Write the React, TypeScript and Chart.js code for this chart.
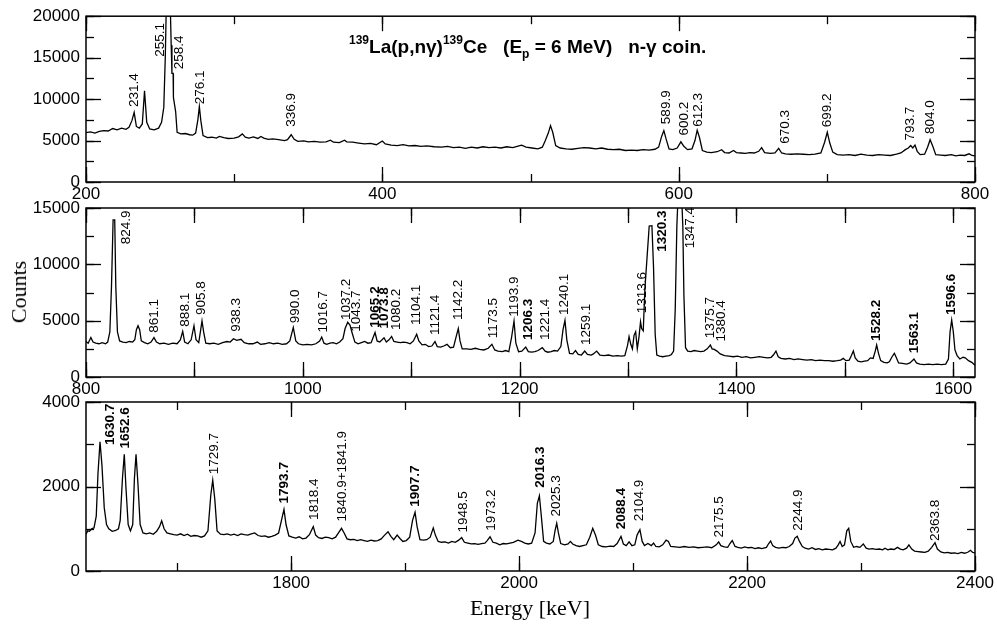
import React, { useEffect, useRef } from 'react';
import { Chart, registerables } from 'chart.js';

Chart.register(...registerables);

const SANS = '"Liberation Sans", Arial, Helvetica, sans-serif';
const SERIF = '"Liberation Serif", "Times New Roman", serif';

// ---------- Panel 1: 200–800 keV ----------
const spectrum1: [number, number][] = [
  [200, 5950], [203, 6050], [206, 5900], [209, 6100], [212, 6200], [215, 6150], [218, 6450], [221, 6300],
  [224, 6500], [227, 6350], [229, 6600], [231, 7400], [232.5, 8400], [234, 6700], [236, 6500], [238, 7000],
  [239.5, 11000], [241, 7200], [243, 6400], [246, 6300], [249, 6500], [251, 7200], [252.5, 9000], [253.5, 15000],
  [254.5, 24000], [256.5, 24000], [257.5, 16500], [258, 13100], [258.8, 13100], [259, 10200], [260.5, 8500],
  [261.5, 6000], [264, 5800], [267, 5850], [270, 5700], [272, 5650], [274, 5900], [275.5, 7500], [276.5, 9100],
  [277.5, 7400], [279, 5600], [282, 5350], [285, 5400], [288, 5300], [290, 5500], [293, 5350], [296, 5250],
  [300, 5300], [303, 5450], [305.5, 5800], [307.5, 5400], [310, 5300], [313, 5450], [316, 5250], [318, 5500],
  [320, 5300], [323, 5150], [326, 5200], [330, 5100], [334, 5000], [336, 5100], [338.5, 5700], [340.5, 5150],
  [343, 4900], [347, 4950], [350, 4850], [354, 4900], [358, 4800], [362, 4850], [365, 5050], [367, 4800],
  [371, 4750], [374.5, 5050], [376, 4850], [380, 4800], [384, 4700], [388, 4600], [392, 4650], [396, 4500],
  [400, 4950], [402, 4600], [406, 4450], [410, 4400], [414, 4500], [418, 4350], [422, 4400], [426, 4300],
  [430, 4350], [435, 4250], [440, 4200], [444, 4300], [448, 4150], [452, 4200], [456, 4050], [460, 4200],
  [464, 4100], [468, 4250], [472, 4150], [476, 4200], [480, 4100], [484, 4250], [488, 4150], [491, 4300],
  [494, 4450], [497, 4200], [501, 4100], [505, 4000], [508, 4200], [510, 5000], [512, 5900], [513.5, 6800],
  [515, 6000], [517, 4400], [520, 4100], [524, 4000], [528, 3950], [532, 4050], [536, 4150], [540, 4100],
  [544, 4000], [548, 4100], [552, 3950], [556, 3900], [560, 3950], [564, 3800], [568, 3850], [572, 3800],
  [576, 3900], [580, 3850], [584, 3950], [586.5, 4200], [588.5, 5500], [590, 6200], [591.5, 5200], [593.5, 4000],
  [596, 3900], [599, 4100], [601.5, 4850], [603.5, 4300], [606, 3900], [609, 4000], [611, 5000], [612.5, 6250],
  [614, 5400], [616, 3800], [619, 3600], [622, 3550], [626, 3650], [629, 3900], [631, 3550], [634, 3500],
  [637, 3800], [639, 3550], [642, 3500], [645, 3450], [648, 3550], [651, 3500], [654, 3700], [656, 4150],
  [658, 3550], [662, 3450], [665, 3500], [667.5, 4050], [669.5, 3500], [672, 3400], [676, 3350], [680, 3400],
  [684, 3350], [688, 3300], [692, 3350], [696, 3500], [698.5, 4800], [700.3, 6000], [702, 4700], [704, 3600],
  [707, 3300], [711, 3250], [715, 3300], [719, 3200], [723, 3350], [727, 3250], [731, 3200], [735, 3300],
  [739, 3250], [743, 3200], [747, 3350], [750, 3500], [753, 3900], [755, 4100], [756.6, 4400], [758, 4100],
  [759.5, 4450], [761, 3700], [763, 3300], [766, 3350], [768, 4200], [769.7, 5100], [771.5, 4300], [773.5, 3300],
  [777, 3250], [780, 3200], [784, 3300], [787, 3150], [790, 3250], [793, 3200], [796, 3400], [798, 3200],
  [800, 3150],
];

// [text, energy position on axis, counts at text start, bold]
const labels1: [string, number, number, boolean][] = [
  ['231.4', 232.8, 9050, false], ['255.1', 249.9, 15120, false], ['258.4', 263, 13610, false],
  ['276.1', 277, 9370, false], ['336.9', 338.8, 6670, false], ['589.9', 591.9, 6980, false],
  ['600.2', 603.6, 5600, false], ['612.3', 613.3, 6670, false], ['670.3', 671.8, 4600, false],
  ['699.2', 700.5, 6590, false], ['793.7', 756.6, 5000, false], ['804.0', 769.6, 5800, false],
];

// ---------- Panel 2: 800–1620 keV ----------
const spectrum2: [number, number][] = [
  [800, 3150], [802, 3000], [804.5, 3500], [806.5, 3100], [809, 3000], [812, 2950], [815, 3050], [818, 2950],
  [820, 3100], [822, 4000], [823.5, 8000], [825, 13950], [826.5, 13950], [827.5, 8000], [829, 4000], [831, 3200],
  [834, 3100], [837, 3050], [840, 3150], [843, 3100], [845, 3300], [846.5, 4200], [848, 4550], [849.5, 4200],
  [851, 3200], [854, 3050], [857, 2950], [860, 3100], [862.7, 3500], [865, 3100], [868, 2950], [872, 3000],
  [876, 2900], [880, 3000], [884, 2950], [887, 3300], [889.2, 4050], [891, 3100], [894, 2950], [897, 3300],
  [899.6, 4550], [901.5, 3300], [904, 3050], [905.5, 4000], [907, 4970], [908.5, 4000], [910.5, 3000], [914, 2950],
  [918, 3000], [922, 2900], [926, 3050], [930, 3150], [933, 3100], [936, 3400], [939, 3250], [943, 3350],
  [946, 3050], [950, 2950], [954, 2950], [958, 3100], [961, 2900], [965, 2950], [969, 3050], [973, 2950],
  [977, 3000], [981, 2900], [985, 2950], [988, 3200], [991.2, 4400], [993.5, 3200], [996, 2950], [1000, 2850],
  [1004, 2900], [1008, 2850], [1012, 2950], [1015.5, 3200], [1017.4, 3550], [1019.5, 3000], [1022, 2900], [1025, 3000],
  [1028, 3050], [1031, 2950], [1034, 3100], [1037, 3400], [1039, 4300], [1041.4, 4850], [1043.5, 4600], [1045.5, 3900],
  [1048, 3100], [1051, 2950], [1054, 3050], [1057, 3150], [1060, 3000], [1063, 3050], [1066.6, 3950], [1068.5, 3200],
  [1071, 3100], [1074.9, 3480], [1077, 3100], [1079.5, 3300], [1081.9, 3600], [1084, 3150], [1087, 3100], [1090, 3050],
  [1093, 3100], [1096, 3050], [1099, 2950], [1102, 3200], [1105, 3800], [1107, 3200], [1110, 2850], [1113, 2900],
  [1116, 2700], [1119, 2750], [1121.9, 3150], [1124, 2700], [1127, 2650], [1130, 2750], [1133, 2900], [1136, 2600],
  [1139, 2650], [1141.5, 3600], [1143.4, 4300], [1145, 3200], [1147, 2500], [1151, 2500], [1155, 2450], [1159, 2550],
  [1163, 2450], [1167, 2400], [1171, 2550], [1174.4, 2900], [1177, 2400], [1180, 2300], [1184, 2250], [1187, 2350],
  [1190, 2250], [1192.5, 3500], [1194.8, 4970], [1196.5, 3000], [1199, 2250], [1202, 2300], [1205.6, 2650], [1208, 2250],
  [1211, 2200], [1214, 2250], [1217, 2350], [1220.9, 2600], [1223.5, 2300], [1226, 2200], [1229, 2250], [1232, 2350],
  [1235, 2300], [1238, 2700], [1240, 4200], [1241.8, 5030], [1243.5, 3300], [1246, 2100], [1249, 2050], [1251.5, 2350],
  [1254, 2000], [1257, 1950], [1260, 2300], [1262.5, 2000], [1266, 1950], [1268, 2050], [1271, 2300], [1274, 1950],
  [1278, 1900], [1282, 1950], [1286, 1850], [1290, 1900], [1294, 1850], [1297, 1900], [1299.5, 2800], [1300.9, 3580],
  [1302.5, 2900], [1304, 2500], [1305.5, 3700], [1307, 4020], [1308.5, 2500], [1310, 3500], [1311.5, 4900], [1312.5, 4300],
  [1314, 4100], [1315.5, 7800], [1317.5, 10600], [1319.5, 13400], [1322, 13430], [1323.5, 9670], [1325, 3800], [1326.5, 1950],
  [1329, 1850], [1332, 1800], [1335, 1850], [1338, 1900], [1340, 2000], [1342, 2300], [1343.5, 6000], [1345, 13400],
  [1346.5, 17000], [1349, 17000], [1350.5, 13380], [1351.5, 7260], [1353, 2600], [1355, 2300], [1358, 2250], [1361, 2350],
  [1364, 2300], [1367, 2250], [1370, 2300], [1373, 2500], [1375.9, 2840], [1377.5, 2500], [1379.5, 2450], [1382, 2300],
  [1385, 2050], [1389, 1900], [1393, 1850], [1397, 1800], [1401, 1850], [1405, 1750], [1409, 1800], [1413, 1700],
  [1417, 1750], [1421, 1800], [1425, 1750], [1429, 1700], [1432, 1750], [1434, 1950], [1436.4, 2300], [1438.5, 1800],
  [1441, 1650], [1445, 1600], [1449, 1650], [1453, 1550], [1457, 1600], [1461, 1550], [1465, 1500], [1469, 1550],
  [1473, 1450], [1477, 1500], [1481, 1450], [1485, 1450], [1489, 1400], [1493, 1450], [1496, 1500], [1498.5, 1650],
  [1501, 1450], [1504, 1500], [1506, 1900], [1507.8, 2310], [1509.5, 1700], [1512, 1400], [1515, 1350], [1518, 1400],
  [1521, 1450], [1523.5, 1700], [1526, 1650], [1528, 2300], [1529.3, 2840], [1531, 2100], [1533, 1450], [1536, 1300],
  [1539, 1250], [1541, 1350], [1543.5, 1800], [1545.6, 2100], [1547.5, 1700], [1549.5, 1250], [1553, 1200], [1557, 1150],
  [1560, 1250], [1563.7, 1600], [1566, 1250], [1569, 1150], [1573, 1100], [1577, 1150], [1581, 1100], [1585, 1150],
  [1589, 1100], [1593, 1150], [1595.5, 1600], [1597, 4000], [1598.5, 5060], [1600, 4000], [1601.5, 2400], [1603.5, 1900],
  [1606, 1600], [1609, 1750], [1611, 1700], [1614, 1450], [1617, 1300], [1620, 1050],
];

const labels2: [string, number, number, boolean][] = [
  ['824.9', 836.9, 11780, false], ['861.1', 862.7, 3930, false], ['888.1', 891.3, 4470, false],
  ['905.8', 906.7, 5500, false], ['938.3', 939, 4020, false], ['990.0', 992.8, 4760, false],
  ['1016.7', 1018.9, 3960, false], ['1037.2', 1040.5, 5060, false], ['1043.7', 1049.7, 4020, false],
  ['1065.2', 1066.6, 4380, true], ['1073.8', 1074.9, 4300, true], ['1080.2', 1086.6, 4170, false],
  ['1104.1', 1105, 4620, false], ['1121.4', 1121.9, 3730, false], ['1142.2', 1143.4, 5060, false],
  ['1173.5', 1175.7, 3430, false], ['1193.9', 1194.8, 5350, false], ['1206.3', 1208, 3280, true],
  ['1221.4', 1223.4, 3280, false], ['1240.1', 1240.9, 5500, false], ['1259.1', 1261.2, 2840, false],
  ['1313.6', 1313.5, 5650, false], ['1320.3', 1332, 11120, true], ['1347.4', 1357.1, 11420, false],
  ['1375.7', 1375.5, 3430, false], ['1380.4', 1385.7, 3140, false], ['1528.2', 1529.3, 3190, true],
  ['1563.1', 1563.7, 2100, true], ['1596.6', 1597.8, 5500, true],
];

// ---------- Panel 3: 1620–2400 keV ----------
const spectrum3: [number, number][] = [
  [1620, 870], [1621.5, 950], [1623, 940], [1625, 1000], [1627, 1020], [1629, 1300], [1630.5, 2300], [1632.3, 3060],
  [1634, 2500], [1636, 1500], [1638, 1100], [1640, 1000], [1643, 940], [1646, 960], [1648.5, 1000], [1650, 1200],
  [1652, 2200], [1653.6, 2760], [1655, 2000], [1657, 1100], [1659, 950], [1661, 1100], [1662.5, 2200], [1663.9, 2760],
  [1665.5, 2100], [1667.5, 1100], [1670, 900], [1673, 880], [1676, 900], [1679, 870], [1682, 940], [1684.5, 1050],
  [1686.4, 1190], [1688.5, 1000], [1691, 900], [1694, 880], [1697, 860], [1700, 850], [1703, 880], [1706, 840],
  [1709, 870], [1712, 820], [1715, 840], [1718, 830], [1721, 800], [1724, 830], [1727, 950], [1729.5, 1800],
  [1731.2, 2150], [1733, 1700], [1735, 950], [1738, 870], [1741, 860], [1744, 880], [1747, 850], [1750, 870],
  [1753, 840], [1756, 880], [1759, 860], [1762, 850], [1765, 880], [1768, 900], [1771, 840], [1774, 820],
  [1777, 830], [1780, 800], [1783, 820], [1786, 850], [1789, 900], [1791.5, 1200], [1793.7, 1460], [1795.5, 1100],
  [1798, 830], [1801, 800], [1804, 780], [1807, 810], [1810, 760], [1813, 780], [1816, 860], [1819.4, 1050],
  [1821.5, 850], [1824, 790], [1827, 770], [1830, 800], [1833, 790], [1836, 760], [1839, 800], [1841.5, 900],
  [1844.2, 1010], [1846.5, 900], [1849, 760], [1852, 740], [1855, 750], [1858, 720], [1861, 740], [1864, 720],
  [1867, 700], [1870, 730], [1873, 710], [1876, 720], [1879, 760], [1882, 850], [1885, 930], [1887.5, 820],
  [1890, 740], [1893, 850], [1895.5, 770], [1898, 700], [1901, 720], [1904, 800], [1906.5, 1200], [1908.7, 1390],
  [1910.5, 1050], [1913, 740], [1916, 730], [1919, 740], [1922, 800], [1924.7, 1020], [1926.5, 850], [1929, 700],
  [1932, 680], [1935, 690], [1938, 660], [1941, 700], [1944, 680], [1947, 730], [1949.6, 790], [1952, 680],
  [1955, 660], [1958, 640], [1961, 650], [1964, 630], [1967, 650], [1970, 660], [1972, 720], [1974.5, 810],
  [1977, 680], [1980, 660], [1983, 620], [1986, 650], [1989, 640], [1992, 660], [1995, 680], [1999, 730],
  [2002, 700], [2005, 660], [2008, 640], [2011, 660], [2014, 900], [2016, 1600], [2017.8, 1780], [2019.5, 1300],
  [2021.5, 700], [2024, 660], [2027, 640], [2030, 700], [2031.5, 950], [2033, 1130], [2034.5, 900], [2036.5, 650],
  [2040, 620], [2043, 640], [2045, 700], [2047, 640], [2050, 600], [2053, 580], [2056, 600], [2059, 620],
  [2062, 800], [2064.6, 1010], [2067, 850], [2069.5, 620], [2073, 580], [2076, 570], [2080, 590], [2083, 580],
  [2086, 650], [2089.4, 820], [2091.5, 640], [2094, 600], [2096.5, 690], [2099, 600], [2101.5, 620], [2103.5, 850],
  [2106, 980], [2108, 700], [2110, 600], [2113, 650], [2116, 600], [2118, 660], [2120, 580], [2123, 570],
  [2126, 620], [2129, 730], [2131, 700], [2133, 580], [2137, 570], [2141, 560], [2145, 580], [2149, 560],
  [2153, 570], [2157, 550], [2161, 560], [2165, 570], [2169, 550], [2173, 620], [2175.1, 690], [2177, 600],
  [2180, 570], [2183, 560], [2185, 650], [2187, 720], [2189.5, 580], [2192, 560], [2195, 540], [2198, 570],
  [2201, 550], [2204, 560], [2207, 530], [2210, 550], [2213, 530], [2217, 560], [2219, 650], [2220.7, 710],
  [2222.5, 600], [2225, 560], [2228, 540], [2231, 560], [2234, 550], [2237, 580], [2240, 650], [2242, 780],
  [2244, 820], [2246, 700], [2248.5, 580], [2251, 540], [2254, 520], [2257, 550], [2260, 510], [2263, 530],
  [2266, 500], [2269, 520], [2272, 510], [2275, 500], [2278, 540], [2280, 620], [2281.6, 700], [2283.5, 580],
  [2285.5, 620], [2287.5, 950], [2289.2, 1010], [2291, 700], [2293.5, 560], [2296, 580], [2299, 560], [2302, 640],
  [2304.5, 540], [2307, 520], [2310, 530], [2313, 510], [2316, 520], [2319, 500], [2321, 540], [2323.5, 500],
  [2326, 520], [2329, 510], [2332, 560], [2334.5, 520], [2337, 500], [2340, 540], [2342, 620], [2344.5, 520],
  [2347, 470], [2350, 460], [2353, 450], [2356, 440], [2359, 470], [2362, 560], [2364.9, 670], [2367, 520],
  [2370, 450], [2373, 430], [2376, 440], [2379, 420], [2382, 430], [2385, 410], [2388, 440], [2391, 420],
  [2394, 450], [2396, 490], [2398, 440], [2400, 430],
];

const labels3: [string, number, number, boolean][] = [
  ['1630.7', 1641, 2980, true], ['1652.6', 1654.2, 2900, true], ['1729.7', 1732.3, 2290, false],
  ['1793.7', 1793.7, 1600, true], ['1818.4', 1820, 1210, false], ['1840.9+1841.9', 1844.9, 1170, false],
  ['1907.7', 1908.7, 1520, true], ['1948.5', 1951, 910, false], ['1973.2', 1976, 950, false],
  ['2016.3', 2018.4, 1970, true], ['2025.3', 2032.4, 1290, false], ['2088.4', 2089.4, 990, true],
  ['2104.9', 2105.5, 1180, false], ['2175.5', 2175.7, 790, false], ['2244.9', 2245, 950, false],
  ['2363.8', 2364.9, 710, false],
];

// axis ranges and tick labels
const xRanges: [number, number][] = [[200, 800], [800, 1620], [1620, 2400]];
const xTickLabels1 = [200, 400, 600, 800];
const xTickLabels2 = [800, 1000, 1200, 1400, 1600];
const xTickLabels3 = [1800, 2000, 2200, 2400];
const yTickLabels1 = [0, 5000, 10000, 15000, 20000];
const yTickLabels2 = [0, 5000, 10000, 15000];
const yTickLabels3 = [0, 2000, 4000];

interface Panel {
  spectrum: [number, number][];
  labels: [string, number, number, boolean][];
  xr: [number, number];
  xTicks: number[];
  yTicks: number[];
  xMajor: number;
  xMinor: number;
  yMajor: number;
  yMinor: number;
  top: number;
  bottom: number;
}

const panels: Panel[] = [
  { spectrum: spectrum1, labels: labels1, xr: xRanges[0], xTicks: xTickLabels1, yTicks: yTickLabels1, xMajor: 200, xMinor: 100, yMajor: 5000, yMinor: 2500, top: 14, bottom: 182 },
  { spectrum: spectrum2, labels: labels2, xr: xRanges[1], xTicks: xTickLabels2, yTicks: yTickLabels2, xMajor: 100, xMinor: 100, yMajor: 5000, yMinor: 2500, top: 208, bottom: 377 },
  { spectrum: spectrum3, labels: labels3, xr: xRanges[2], xTicks: xTickLabels3, yTicks: yTickLabels3, xMajor: 200, xMinor: 100, yMajor: 2000, yMinor: 1000, top: 402, bottom: 571 },
];

const W = 997;
const H = 624;
const LEFT = 86;
const RIGHT = 975;
const YAXW = 80;
const XAXH = 24;

function makeDecor(p: Panel) {
  return {
    id: 'decor',
    afterDatasetsDraw(chart: any) {
      const { ctx, chartArea: a, scales } = chart;
      const x = scales.x;
      const y = scales.y;
      ctx.save();
      ctx.fillStyle = '#000';
      ctx.textAlign = 'left';
      ctx.textBaseline = 'middle';
      for (const [t, e, c, b] of p.labels) {
        const px = x.getPixelForValue(e);
        const py = y.getPixelForValue(c);
        ctx.save();
        ctx.translate(px, py);
        ctx.rotate(-Math.PI / 2);
        ctx.font = `${b ? 'bold ' : ''}13.5px ${SANS}`;
        ctx.fillText(t, 0, 0);
        ctx.restore();
      }
      ctx.strokeStyle = '#000';
      ctx.lineWidth = 1.5;
      ctx.strokeRect(a.left, a.top, a.right - a.left, a.bottom - a.top);
      ctx.lineWidth = 1.3;
      const seg = (x1: number, y1: number, x2: number, y2: number) => {
        ctx.beginPath();
        ctx.moveTo(x1, y1);
        ctx.lineTo(x2, y2);
        ctx.stroke();
      };
      const xTicks = (step: number, len: number) => {
        for (let v = Math.ceil(x.min / step) * step; v <= x.max + 1e-6; v += step) {
          const px = Math.round(x.getPixelForValue(v)) + 0.5;
          seg(px, a.bottom, px, a.bottom - len);
          seg(px, a.top, px, a.top + len);
        }
      };
      const yTicks = (step: number, len: number) => {
        for (let v = Math.ceil(y.min / step) * step; v <= y.max + 1e-6; v += step) {
          const py = Math.round(y.getPixelForValue(v)) + 0.5;
          seg(a.left, py, a.left + len, py);
          seg(a.right, py, a.right - len, py);
        }
      };
      xTicks(p.xMinor, 8);
      xTicks(p.xMajor, 15);
      yTicks(p.yMinor, 8);
      yTicks(p.yMajor, 15);
      ctx.restore();
    },
  };
}

function PanelChart({ p }: { p: Panel }) {
  const ref = useRef<HTMLCanvasElement | null>(null);
  useEffect(() => {
    if (!ref.current) return;
    const tickFont = { family: SANS, size: 17 };
    const chart = new Chart(ref.current, {
      type: 'line',
      data: {
        datasets: [
          {
            data: p.spectrum.map(([e, c]) => ({ x: e, y: c })),
            borderColor: '#000',
            borderWidth: 1.3,
            pointRadius: 0,
            fill: false,
            tension: 0,
          },
        ],
      },
      options: {
        animation: false,
        responsive: false,
        devicePixelRatio: 1,
        events: [],
        layout: {
          padding: { left: LEFT - YAXW, right: W - RIGHT, top: p.top, bottom: H - p.bottom - XAXH },
        },
        plugins: { legend: { display: false }, tooltip: { enabled: false }, title: { display: false } },
        scales: {
          x: {
            type: 'linear',
            min: p.xr[0],
            max: p.xr[1],
            grid: { display: false, drawTicks: false },
            border: { display: false },
            afterBuildTicks: (s: any) => {
              s.ticks = p.xTicks.map((v) => ({ value: v }));
            },
            ticks: {
              autoSkip: false,
              maxRotation: 0,
              padding: 2,
              color: '#000',
              font: tickFont,
              callback: (v: any) => String(v),
            },
            afterFit: (s: any) => {
              s.height = XAXH;
            },
          },
          y: {
            type: 'linear',
            min: 0,
            max: p.yTicks[p.yTicks.length - 1],
            grid: { display: false, drawTicks: false },
            border: { display: false },
            afterBuildTicks: (s: any) => {
              s.ticks = p.yTicks.map((v) => ({ value: v }));
            },
            ticks: {
              autoSkip: false,
              padding: 6,
              color: '#000',
              font: tickFont,
              callback: (v: any) => String(v),
            },
            afterFit: (s: any) => {
              s.width = YAXW;
            },
          },
        },
      },
      plugins: [makeDecor(p)],
    } as any);
    return () => chart.destroy();
  }, [p]);
  return (
    <canvas
      ref={ref}
      width={W}
      height={H}
      style={{ position: 'absolute', left: 0, top: 0, width: W, height: H }}
    />
  );
}

export default function App() {
  const sup: React.CSSProperties = { fontSize: 12, position: 'relative', top: -9, verticalAlign: 'baseline' };
  const sub: React.CSSProperties = { fontSize: 12, position: 'relative', top: 5, verticalAlign: 'baseline' };
  return (
    <div style={{ position: 'absolute', left: 0, top: 0, width: W, height: H, background: '#fff', overflow: 'hidden' }}>
      {panels.map((p, i) => (
        <PanelChart key={i} p={p} />
      ))}
      <div
        style={{
          position: 'absolute',
          left: 349,
          top: 36,
          font: `bold 19px ${SANS}`,
          lineHeight: '22px',
          whiteSpace: 'pre',
          color: '#000',
        }}
      >
        <span style={sup}>139</span>La(p,nγ)<span style={sup}>139</span>Ce{'   '}(E<span style={sub}>p</span> = 6 MeV){'   '}n-γ coin.
      </div>
      <div
        style={{
          position: 'absolute',
          left: 19,
          top: 292,
          transform: 'translate(-50%, -50%) rotate(-90deg)',
          font: `22px ${SERIF}`,
          whiteSpace: 'nowrap',
          color: '#000',
        }}
      >
        Counts
      </div>
      <div
        style={{
          position: 'absolute',
          left: 530,
          top: 608,
          transform: 'translate(-50%, -50%)',
          font: `22px ${SERIF}`,
          whiteSpace: 'nowrap',
          color: '#000',
        }}
      >
        Energy [keV]
      </div>
    </div>
  );
}
